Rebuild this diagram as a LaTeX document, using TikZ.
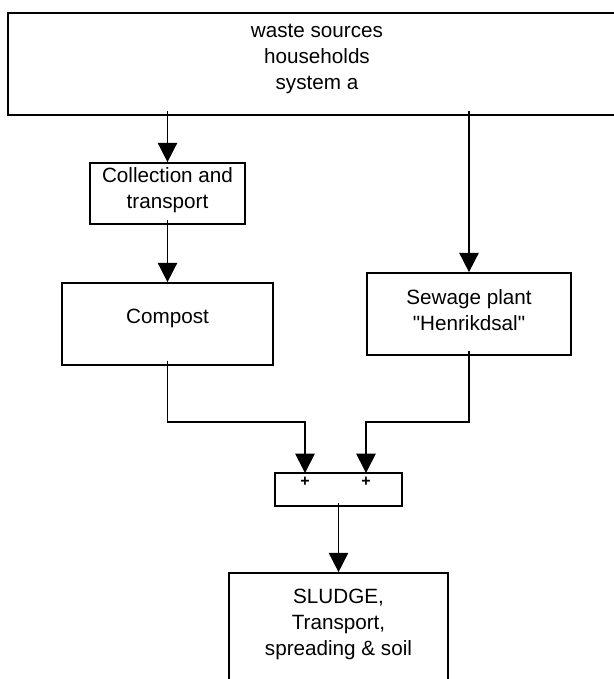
\documentclass[tikz,border=0pt]{standalone}
\usepackage{fontspec}
\setmainfont{Liberation Sans}[Ligatures=TeXOff]
\usetikzlibrary{arrows.meta}
\begin{document}
\begin{tikzpicture}[x=0.75pt,y=-0.75pt,
  box/.style 2 args={draw,line width=1.3pt,inner sep=0pt,minimum width=#1*0.75pt,minimum height=#2*0.75pt},
  txt/.style={align=center,inner sep=0pt,font=\fontsize{15.5}{19.5}\selectfont},
  sign/.style={inner sep=0pt,font=\fontsize{12}{12}\selectfont\bfseries},
  arr/.style={line width=1.3pt,-{Triangle[length=14.5pt,width=14.5pt]}}]
\useasboundingbox (0,0) rectangle (614,679);
% boxes
\node[box={618}{102}] (top) at (317,64) {};
\node[box={155}{61}] (coll) at (167.5,193.5) {};
\node[box={211}{82}] (comp) at (167.5,324) {};
\node[box={204}{82}] (sew) at (469,314) {};
\node[box={127}{33}] (plus) at (338.5,489.5) {};
\node[box={219}{127}] (sludge) at (338.5,636.5) {};
% texts
\node[txt] (topT) at (317,59) {waste sources\\households\\system a};
\node[txt] (collT) at (167.5,190) {Collection and\\transport};
\node[txt] (compT) at (167.5,318) {Compost};
\node[txt] (sewT) at (469,310) {Sewage plant\\"Henrikdsal"};
\node[txt] (sludgeT) at (338.5,624) {SLUDGE,\\Transport,\\spreading \& soil};
\node[sign] (pA) at (305,482) {+};
\node[sign] (pB) at (366,482) {+};
% junction points
\coordinate (inA) at (305,473);
\coordinate (inB) at (366,473);
\coordinate (kA) at (305,422);
\coordinate (kB) at (366,422);
% connectors
\draw[arr] ([yshift=4pt]top.south -| coll.north) -- (coll.north);
\draw[arr] ([yshift=4pt]top.south -| sew.north) -- (sew.north);
\draw[arr] ([yshift=4pt]coll.south) -- (comp.north);
\draw[arr] ([yshift=4pt]comp.south) |- (kA) -- (inA);
\draw[arr] ([yshift=4pt]sew.south) |- (kB) -- (inB);
\draw[arr] ([yshift=3pt]plus.south) -- (sludge.north);
\end{tikzpicture}
\end{document}
